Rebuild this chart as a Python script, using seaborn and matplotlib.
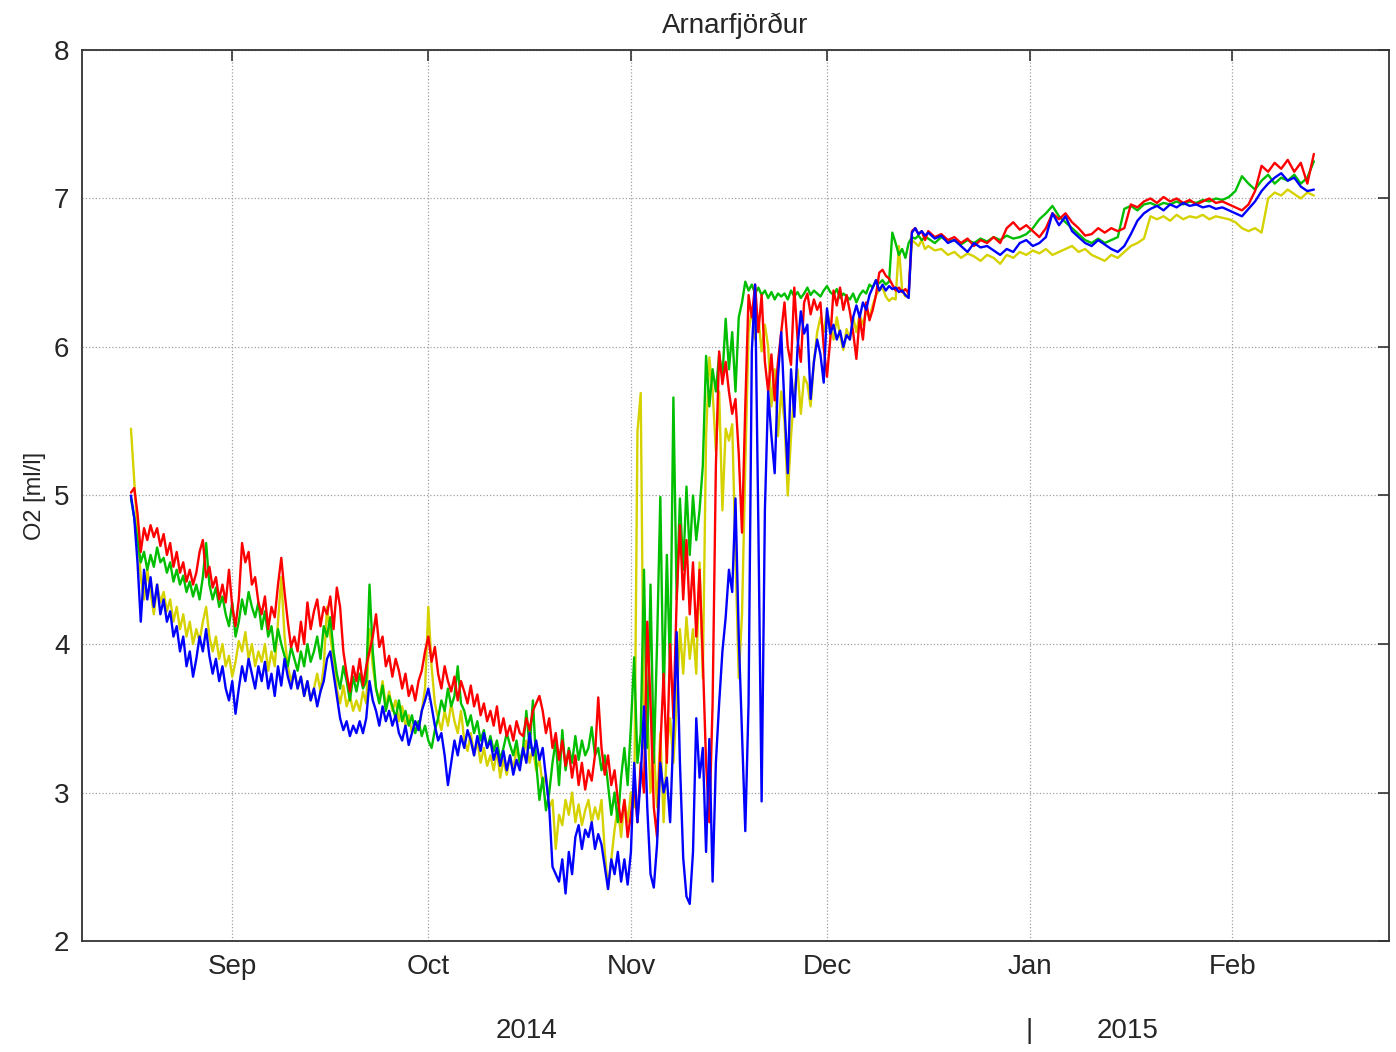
import pandas as pd
import numpy as np
import matplotlib
matplotlib.use('Agg')
import matplotlib.pyplot as plt
import matplotlib.dates as mdates
import matplotlib.transforms as mtrans
import seaborn as sns

# O2 [ml/l]
# part 1: every 12 h from 16 Aug 12:00 to 16 Dec 00:00 (10 values per line)
# part 2: daily from 16 Dec to 13 Feb (5 days per line)
seg1_start, seg1_end = '2014-08-16 12:00', '2014-12-16 00:00'
seg2_start, seg2_end = '2014-12-16 12:00', '2015-02-13 12:00'

red_1 = [
    5.02, 5.05, 4.88, 4.62, 4.78, 4.70, 4.80, 4.72, 4.78, 4.66,
    4.74, 4.60, 4.68, 4.52, 4.62, 4.48, 4.55, 4.42, 4.50, 4.40,
    4.48, 4.62, 4.70, 4.45, 4.52, 4.38, 4.45, 4.30, 4.40, 4.28,
    4.50, 4.25, 4.12, 4.30, 4.68, 4.55, 4.62, 4.40, 4.45, 4.28,
    4.20, 4.32, 4.10, 4.25, 4.18, 4.40, 4.58, 4.35, 4.15, 3.98,
    4.05, 3.95, 4.15, 4.00, 4.28, 4.10, 4.22, 4.30, 4.12, 4.25,
    4.20, 4.32, 4.10, 4.38, 4.25, 3.95, 3.80, 3.68, 3.85, 3.75,
    3.90, 3.72, 3.85, 3.95, 4.05, 4.20, 3.98, 4.05, 3.85, 3.92,
    3.78, 3.90, 3.82, 3.70, 3.80, 3.65, 3.72, 3.62, 3.75, 3.82,
    3.95, 4.05, 3.88, 3.98, 3.80, 3.70, 3.85, 3.75, 3.68, 3.78,
    3.62, 3.75, 3.68, 3.60, 3.72, 3.58, 3.66, 3.52, 3.60, 3.48,
    3.55, 3.45, 3.58, 3.40, 3.50, 3.38, 3.45, 3.35, 3.48, 3.40,
    3.38, 3.50, 3.42, 3.55, 3.60, 3.65, 3.55, 3.40, 3.50, 3.30,
    3.40, 3.22, 3.35, 3.18, 3.28, 3.10, 3.25, 3.05, 3.20, 3.02,
    3.15, 3.08, 3.25, 3.64, 3.30, 3.12, 3.25, 3.05, 3.15, 2.95,
    2.80, 2.95, 2.70, 2.85, 3.05, 2.80, 3.20, 3.00, 4.15, 3.60,
    2.90, 2.70, 3.30, 3.80, 3.20, 4.00, 3.50, 4.30, 4.80, 4.30,
    4.70, 4.20, 4.55, 4.05, 4.50, 3.90, 3.20, 2.80, 3.60, 5.20,
    5.97, 5.75, 5.90, 5.70, 5.55, 5.65, 5.28, 4.75, 5.60, 6.35,
    6.20, 6.42, 6.10, 6.35, 5.90, 5.70, 5.95, 5.64, 5.90, 6.10,
    6.30, 6.00, 5.88, 6.40, 6.05, 5.90, 6.30, 6.36, 6.22, 6.32,
    6.25, 6.30, 6.00, 5.80, 6.05, 6.38, 6.28, 6.40, 6.25, 6.35,
    6.24, 6.10, 5.92, 6.20, 6.05, 6.30, 6.18, 6.25, 6.35, 6.50,
    6.52, 6.48, 6.46, 6.42, 6.38, 6.40, 6.37, 6.39, 6.36, 6.78,
    6.80, 6.76, 6.78, 6.72]
red_2 = [
    6.78, 6.74, 6.76, 6.72, 6.74,
    6.70, 6.73, 6.68, 6.72, 6.70,
    6.74, 6.70, 6.80, 6.84, 6.79,
    6.82, 6.78, 6.74, 6.80, 6.90,
    6.86, 6.90, 6.84, 6.80, 6.75,
    6.76, 6.80, 6.77, 6.80, 6.78,
    6.80, 6.96, 6.94, 6.98, 7.00,
    6.97, 7.01, 6.98, 7.00, 6.97,
    6.99, 6.96, 6.98, 7.00, 6.97,
    6.98, 6.96, 6.94, 6.92, 6.96,
    7.05, 7.22, 7.18, 7.24, 7.20,
    7.26, 7.18, 7.24, 7.10, 7.30]

green_1 = [
    4.98, 4.85, 4.70, 4.55, 4.62, 4.50, 4.60, 4.52, 4.65, 4.55,
    4.58, 4.48, 4.55, 4.42, 4.50, 4.40, 4.46, 4.35, 4.42, 4.32,
    4.40, 4.30, 4.45, 4.68, 4.40, 4.30, 4.38, 4.25, 4.32, 4.20,
    4.12, 4.28, 4.05, 4.15, 4.30, 4.20, 4.35, 4.25, 4.18, 4.28,
    4.10, 4.22, 4.05, 4.12, 3.95, 4.10, 4.00, 3.92, 3.85, 3.98,
    3.90, 3.82, 3.95, 3.85, 4.00, 3.88, 3.95, 4.05, 3.90, 4.12,
    4.05, 4.18, 3.95, 3.80, 3.70, 3.85, 3.75, 3.62, 3.78, 3.68,
    3.80, 3.70, 3.75, 4.40, 3.95, 3.70, 3.60, 3.72, 3.55, 3.65,
    3.58, 3.50, 3.62, 3.48, 3.55, 3.45, 3.52, 3.40, 3.48, 3.38,
    3.45, 3.35, 3.30, 3.42, 3.50, 3.62, 3.55, 3.70, 3.58, 3.65,
    3.85, 3.60, 3.55, 3.45, 3.52, 3.40, 3.48, 3.35, 3.42, 3.30,
    3.38, 3.28, 3.35, 3.22, 3.30, 3.40, 3.32, 3.25, 3.35, 3.20,
    3.30, 3.55, 3.30, 3.62, 3.20, 2.95, 3.10, 2.88, 3.00, 3.20,
    3.35, 3.05, 3.42, 3.15, 3.30, 3.20, 3.38, 3.22, 3.35, 3.25,
    3.30, 3.44, 3.25, 3.30, 3.15, 3.25, 3.05, 2.85, 3.00, 2.80,
    3.10, 3.30, 3.05, 3.45, 3.91, 3.20, 3.40, 4.50, 3.30, 4.40,
    3.20, 4.00, 4.99, 3.60, 4.60, 3.80, 5.66, 4.30, 4.98, 4.50,
    5.06, 4.60, 5.00, 4.70, 4.90, 5.20, 5.94, 5.60, 5.85, 5.70,
    5.95, 5.80, 6.19, 5.85, 6.10, 5.70, 6.20, 6.30, 6.44, 6.38,
    6.42, 6.36, 6.40, 6.35, 6.38, 6.33, 6.37, 6.32, 6.36, 6.34,
    6.36, 6.32, 6.38, 6.34, 6.37, 6.33, 6.36, 6.40, 6.35, 6.38,
    6.36, 6.34, 6.38, 6.41, 6.37, 6.35, 6.39, 6.33, 6.36, 6.34,
    6.32, 6.36, 6.30, 6.35, 6.38, 6.36, 6.42, 6.40, 6.45, 6.43,
    6.45, 6.42, 6.44, 6.77, 6.70, 6.62, 6.66, 6.60, 6.70, 6.74,
    6.73, 6.75, 6.72, 6.74]
green_2 = [
    6.73, 6.70, 6.74, 6.71, 6.72,
    6.69, 6.72, 6.70, 6.73, 6.71,
    6.74, 6.72, 6.75, 6.73, 6.74,
    6.76, 6.80, 6.86, 6.90, 6.95,
    6.88, 6.84, 6.80, 6.76, 6.72,
    6.70, 6.73, 6.70, 6.72, 6.74,
    6.93, 6.95, 6.92, 6.96, 6.97,
    6.95, 6.97, 6.96, 6.98, 6.96,
    6.98, 6.97, 6.99, 6.98, 7.00,
    6.99, 7.01, 7.05, 7.15, 7.10,
    7.06, 7.12, 7.16, 7.10, 7.14,
    7.12, 7.16, 7.10, 7.14, 7.25]

yellow_1 = [
    5.45, 5.10, 4.75, 4.45, 4.30, 4.50, 4.35, 4.20, 4.40, 4.28,
    4.35, 4.22, 4.30, 4.15, 4.25, 4.10, 4.20, 4.05, 4.15, 4.00,
    4.10, 4.02, 4.15, 4.25, 4.05, 3.95, 4.05, 3.90, 4.00, 3.85,
    3.92, 3.78, 3.88, 4.02, 3.95, 4.08, 3.90, 4.00, 3.85, 3.95,
    3.88, 4.00, 3.82, 3.95, 3.85, 4.15, 4.45, 4.05, 3.85, 3.75,
    3.82, 3.70, 3.78, 3.65, 3.75, 3.62, 3.70, 3.80, 3.68, 3.85,
    4.25, 4.05, 3.90, 3.70, 3.60, 3.72, 3.58, 3.65, 3.55, 3.62,
    3.55, 3.68, 3.60, 4.10, 3.85, 3.70, 3.62, 3.75, 3.58, 3.68,
    3.55, 3.62, 3.48, 3.58, 3.45, 3.52, 3.40, 3.48, 3.42, 3.55,
    3.70, 4.25, 3.85, 3.60, 3.50, 3.42, 3.55, 3.45, 3.60, 3.48,
    3.40, 3.55, 3.35, 3.28, 3.40, 3.25, 3.35, 3.20, 3.30, 3.18,
    3.25, 3.15, 3.28, 3.10, 3.22, 3.12, 3.25, 3.15, 3.30, 3.20,
    3.25, 3.35, 3.20, 3.30, 3.15, 3.22, 3.05, 3.12, 2.90, 2.95,
    2.62, 2.85, 2.78, 2.95, 2.85, 3.00, 2.80, 2.92, 2.78, 2.88,
    2.95, 2.80, 2.90, 2.82, 2.95, 2.60, 2.35, 2.55, 2.75, 2.90,
    2.70, 2.95, 2.80, 3.00, 2.90, 5.43, 5.69, 3.30, 3.55, 3.00,
    3.30, 2.90, 3.40, 2.80, 3.30, 3.50, 3.20, 3.60, 4.10, 3.80,
    4.18, 3.90, 4.10, 3.80, 4.55, 3.77, 5.40, 5.93, 5.70, 5.30,
    5.70, 4.90, 5.45, 5.37, 5.48, 4.60, 3.77, 4.20, 5.20, 6.10,
    6.25, 6.05, 6.20, 5.97, 6.15, 6.00, 5.60, 5.85, 5.40, 5.70,
    5.50, 5.00, 5.40, 5.70, 5.85, 5.55, 5.80, 5.75, 5.60, 5.90,
    6.10, 6.20, 6.10, 6.24, 6.15, 6.05, 6.20, 6.08, 5.98, 6.12,
    6.05, 6.20, 6.10, 6.22, 6.15, 6.24, 6.20, 6.28, 6.35, 6.38,
    6.40, 6.34, 6.31, 6.33, 6.32, 6.68, 6.38, 6.34, 6.36, 6.72,
    6.70, 6.68, 6.72, 6.66]
yellow_2 = [
    6.68, 6.65, 6.66, 6.62, 6.64,
    6.60, 6.63, 6.61, 6.58, 6.62,
    6.60, 6.56, 6.62, 6.60, 6.64,
    6.62, 6.65, 6.63, 6.66, 6.62,
    6.64, 6.66, 6.68, 6.64, 6.66,
    6.62, 6.60, 6.58, 6.62, 6.60,
    6.64, 6.68, 6.70, 6.73, 6.88,
    6.86, 6.88, 6.85, 6.89, 6.86,
    6.88, 6.87, 6.89, 6.86, 6.88,
    6.87, 6.86, 6.84, 6.80, 6.78,
    6.80, 6.77, 7.00, 7.04, 7.02,
    7.06, 7.03, 7.00, 7.04, 7.02]

blue_1 = [
    5.00, 4.85, 4.55, 4.15, 4.50, 4.30, 4.45, 4.25, 4.40, 4.20,
    4.30, 4.15, 4.22, 4.05, 4.12, 3.95, 4.05, 3.85, 3.95, 3.78,
    3.90, 4.05, 3.95, 4.10, 3.92, 3.80, 3.90, 3.75, 3.85, 3.70,
    3.62, 3.75, 3.53, 3.70, 3.85, 3.75, 3.90, 3.80, 3.70, 3.85,
    3.75, 3.88, 3.70, 3.80, 3.65, 3.85, 3.72, 3.90, 3.78, 3.70,
    3.82, 3.70, 3.78, 3.65, 3.75, 3.62, 3.70, 3.58, 3.68, 3.75,
    3.90, 3.95, 3.80, 3.65, 3.50, 3.42, 3.48, 3.38, 3.45, 3.40,
    3.48, 3.40, 3.50, 3.75, 3.62, 3.55, 3.45, 3.58, 3.48, 3.55,
    3.45, 3.52, 3.40, 3.35, 3.45, 3.32, 3.40, 3.48, 3.42, 3.55,
    3.62, 3.70, 3.58, 3.45, 3.35, 3.40, 3.25, 3.05, 3.20, 3.35,
    3.25, 3.38, 3.30, 3.42, 3.35, 3.25, 3.38, 3.28, 3.40, 3.30,
    3.35, 3.22, 3.30, 3.18, 3.28, 3.15, 3.25, 3.12, 3.22, 3.15,
    3.30, 3.20, 3.40, 3.25, 3.35, 3.22, 3.30, 3.10, 2.90, 2.50,
    2.45, 2.40, 2.55, 2.32, 2.60, 2.45, 2.70, 2.78, 2.62, 2.75,
    2.70, 2.80, 2.62, 2.72, 2.65, 2.50, 2.35, 2.55, 2.45, 2.60,
    2.40, 2.55, 2.38, 2.60, 3.20, 2.80, 3.10, 3.58, 2.90, 2.45,
    2.36, 2.65, 3.20, 3.00, 3.10, 2.80, 3.40, 4.08, 3.20, 2.56,
    2.30, 2.25, 2.60, 3.50, 3.10, 3.30, 2.60, 3.36, 2.40, 3.20,
    3.60, 3.95, 4.18, 4.50, 4.35, 4.98, 4.05, 3.40, 2.74, 3.60,
    5.97, 6.42, 4.80, 2.94, 4.90, 5.70, 5.40, 5.15, 5.80, 6.10,
    5.60, 5.15, 5.85, 5.53, 6.00, 6.24, 6.09, 6.15, 5.65, 5.90,
    6.05, 5.95, 5.76, 6.26, 6.09, 6.15, 6.05, 6.11, 6.00, 6.08,
    6.05, 6.20, 6.28, 6.20, 6.30, 6.25, 6.35, 6.40, 6.45, 6.38,
    6.42, 6.38, 6.41, 6.39, 6.40, 6.37, 6.38, 6.35, 6.33, 6.77,
    6.80, 6.76, 6.78, 6.75]
blue_2 = [
    6.77, 6.73, 6.75, 6.70, 6.72,
    6.68, 6.64, 6.70, 6.67, 6.68,
    6.65, 6.62, 6.66, 6.64, 6.70,
    6.72, 6.68, 6.70, 6.74, 6.90,
    6.82, 6.88, 6.78, 6.74, 6.70,
    6.68, 6.72, 6.69, 6.66, 6.64,
    6.68, 6.76, 6.85, 6.90, 6.93,
    6.95, 6.92, 6.96, 6.94, 6.97,
    6.95, 6.96, 6.94, 6.95, 6.93,
    6.94, 6.92, 6.90, 6.88, 6.93,
    6.98, 7.05, 7.10, 7.14, 7.17,
    7.12, 7.14, 7.08, 7.05, 7.06]

series = {'yellow': (yellow_1, yellow_2),
          'green': (green_1, green_2),
          'red': (red_1, red_2),
          'blue': (blue_1, blue_2)}
colours = {'yellow': '#d6d200', 'green': '#00bf00', 'red': '#ff0000', 'blue': '#0000ff'}

frames = []
for name, (a, b) in series.items():
    t = pd.date_range(seg1_start, seg1_end, periods=len(a)).append(
        pd.date_range(seg2_start, seg2_end, periods=len(b)))
    frames.append(pd.DataFrame({'time': t, 'O2': a + b, 'sensor': name}))
df = pd.concat(frames, ignore_index=True)

sns.set_theme(style='white')
plt.rcParams['font.family'] = ['Liberation Sans', 'DejaVu Sans']

fig, ax = plt.subplots(figsize=(13.96, 10.52), dpi=100)
fig.subplots_adjust(left=0.0587, right=0.995, top=0.9525, bottom=0.1055)

sns.lineplot(data=df, x='time', y='O2', hue='sensor', hue_order=list(series.keys()),
             palette=colours, estimator=None, linewidth=1.7, legend=False, ax=ax)

ax.set_xlim(pd.Timestamp('2014-08-09'), pd.Timestamp('2015-02-25'))
ax.set_ylim(2, 8)
ax.set_yticks(range(2, 9))
ax.xaxis.set_major_locator(mdates.MonthLocator())
ax.xaxis.set_major_formatter(mdates.DateFormatter('%b'))
ax.grid(True, linestyle=':', color='#a0a0a0', linewidth=0.9)
ax.tick_params(direction='in', length=8, width=1.2, top=True, right=True,
               labelsize=20, color='#333333', pad=9)
for s in ax.spines.values():
    s.set_color('#333333')
    s.set_linewidth(1.3)

ax.set_xlabel('')
ax.set_ylabel('O2 [ml/l]', fontsize=17, labelpad=6)
ax.set_title('Arnarfjörður', fontsize=20, pad=12)

tr = mtrans.blended_transform_factory(ax.transData, ax.transAxes)
for d, txt in [('2014-10-16', '2014'), ('2015-01-01', '|'), ('2015-01-16', '2015')]:
    ax.text(mdates.date2num(pd.Timestamp(d)), -0.101, txt, transform=tr,
            ha='center', va='center', fontsize=20)

plt.savefig('out.png', dpi=100)
